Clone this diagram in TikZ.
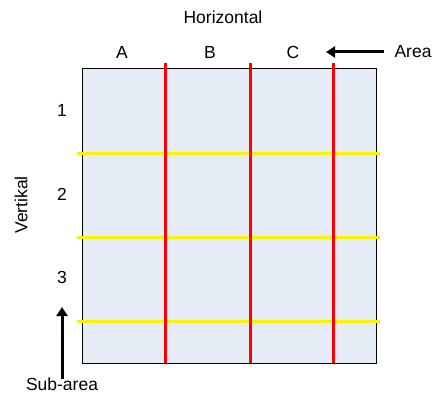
\documentclass[tikz,border=0pt]{standalone}
\usepackage{fontspec}
\setmainfont{Liberation Sans}
\usepackage{tikz}
\usetikzlibrary{arrows.meta, positioning}
\definecolor{colorArea}{RGB}{230,236,246}
\colorlet{colorColumn}{red}
\colorlet{colorRow}{yellow}
\tikzset{label text/.style={font=\fontsize{17.5}{20}\selectfont, inner sep=1pt}}

\begin{document}
\begin{tikzpicture}[x=1pt, y=-1pt, >={Triangle[length=9pt, width=11pt]}, line width=3pt]
\useasboundingbox (0,0) rectangle (439,396);
\fill[colorArea] (82,68) rectangle (376,363);
\draw[black, line width=0.8pt] (82,68) rectangle (376,363);
\foreach \y in {153,237,321}
  \draw[colorRow] (77,\y) -- (380,\y);
\foreach \x in {165,250,333}
  \draw[colorColumn] (\x,63) -- (\x,363);
\node[label text] (horiz) at (223,17) {Horizontal};
\node[label text] (colA) at (122,52) {A};
\node[label text] (colB) at (210,52) {B};
\node[label text] (colC) at (293,52) {C};
\node[label text] (area) at (413,52) {Area};
\node[label text] (row1) at (62,110) {1};
\node[label text] (row2) at (62,194) {2};
\node[label text] (row3) at (62,277) {3};
\node[label text, rotate=90] (vert) at (21,205) {Vertikal};
\node[label text] (sub) at (62,384) {Sub-area};
\coordinate (areaTip) at (326,52);
\coordinate (subTip) at (62,307);
\draw[->] ([xshift=-8pt]area.west) -- (areaTip);
\draw[->] ([yshift=-4pt]sub.north) -- (subTip);
\end{tikzpicture}
\end{document}
